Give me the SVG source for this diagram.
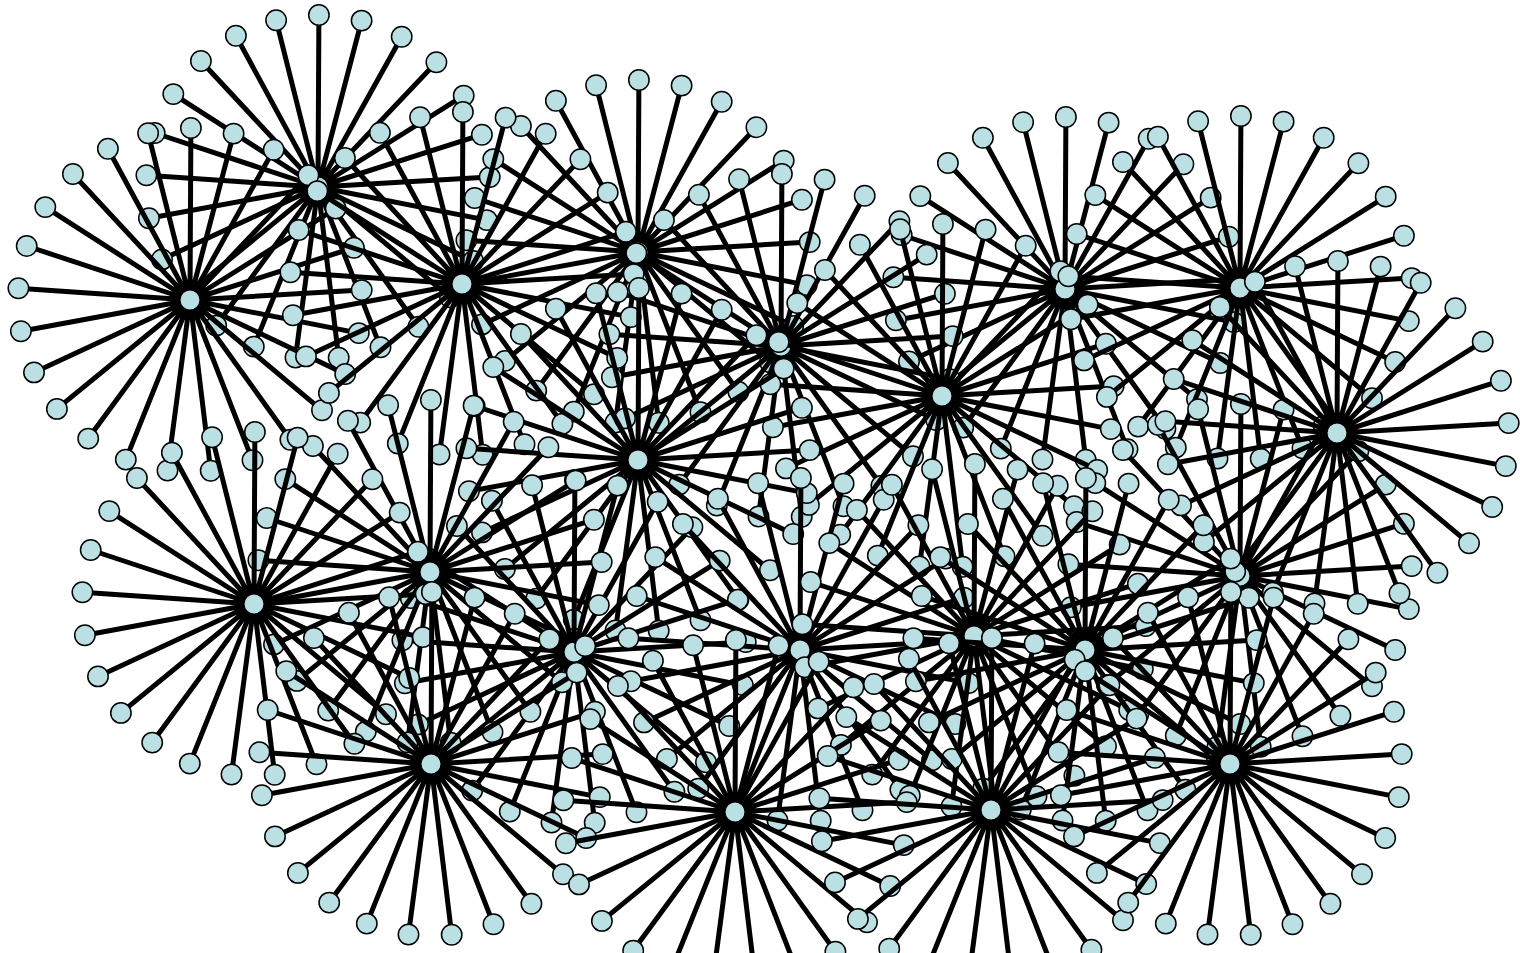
<svg xmlns="http://www.w3.org/2000/svg" xmlns:xlink="http://www.w3.org/1999/xlink" width="1520" height="953" viewBox="0 0 1520 953">
<style>
.edge{fill:none;stroke:#000;stroke-width:5}
.node circle{fill:#bbe0e3;stroke:#000;stroke-width:1.5}
</style>
<defs>
<path id="spokes" class="edge" d="M0 0L171.7-9.9M0 0L168.8 33.1M0 0L155.2 74M0 0L132 110.3M0 0L100.4 139.7M0 0L62.5 160.3M0 0L20.7 170.8M0 0L-22.5 170.5M0 0L-64.2 159.6M0 0L-101.8 138.6M0 0L-133.1 108.9M0 0L-156 72.4M0 0L-169.1 31.3M0 0L-171.6-11.7M0 0L-163.3-54M0 0L-144.7-92.9M0 0L-117.1-126M0 0L-82.1-151.2M0 0L-41.9-166.8M0 0L0.9-172M0 0L43.6-166.4M0 0L83.7-150.3M0 0L118.4-124.8M0 0L145.7-91.4M0 0L163.9-52.3"/>
<g id="leaves" class="node">
<circle cx="171.7" cy="-9.9" r="10.2"/><circle cx="168.8" cy="33.1" r="10.2"/><circle cx="155.2" cy="74" r="10.2"/><circle cx="132" cy="110.3" r="10.2"/><circle cx="100.4" cy="139.7" r="10.2"/><circle cx="62.5" cy="160.3" r="10.2"/><circle cx="20.7" cy="170.8" r="10.2"/><circle cx="-22.5" cy="170.5" r="10.2"/><circle cx="-64.2" cy="159.6" r="10.2"/><circle cx="-101.8" cy="138.6" r="10.2"/><circle cx="-133.1" cy="108.9" r="10.2"/><circle cx="-156" cy="72.4" r="10.2"/><circle cx="-169.1" cy="31.3" r="10.2"/><circle cx="-171.6" cy="-11.7" r="10.2"/><circle cx="-163.3" cy="-54" r="10.2"/><circle cx="-144.7" cy="-92.9" r="10.2"/><circle cx="-117.1" cy="-126" r="10.2"/><circle cx="-82.1" cy="-151.2" r="10.2"/><circle cx="-41.9" cy="-166.8" r="10.2"/><circle cx="0.9" cy="-172" r="10.2"/><circle cx="43.6" cy="-166.4" r="10.2"/><circle cx="83.7" cy="-150.3" r="10.2"/><circle cx="118.4" cy="-124.8" r="10.2"/><circle cx="145.7" cy="-91.4" r="10.2"/><circle cx="163.9" cy="-52.3" r="10.2"/><circle cx="0" cy="0" r="10.2"/>
</g>
</defs>
<g id="graph">
<g id="hub2" transform="translate(318,187)"><use href="#spokes"/><use href="#leaves"/></g>
<g id="hub1" transform="translate(190,300)"><use href="#spokes"/><use href="#leaves"/></g>
<g id="hub4" transform="translate(638,252)"><use href="#spokes"/><use href="#leaves"/></g>
<g id="hub3" transform="translate(462,284)"><use href="#spokes"/><use href="#leaves"/></g>
<g id="hub7" transform="translate(1065,289)"><use href="#spokes"/><use href="#leaves"/></g>
<g id="hub5" transform="translate(781,346)"><use href="#spokes"/><use href="#leaves"/></g>
<g id="hub6" transform="translate(942,396)"><use href="#spokes"/><use href="#leaves"/></g>
<g id="hub8" transform="translate(1240,288)"><use href="#spokes"/><use href="#leaves"/></g>
<g id="hub17" transform="translate(1240,576)"><use href="#spokes"/><use href="#leaves"/></g>
<g id="hub9" transform="translate(1337,433)"><use href="#spokes"/><use href="#leaves"/></g>
<g id="hub10" transform="translate(638,460)"><use href="#spokes"/><use href="#leaves"/></g>
<g id="hub13" transform="translate(574,652)"><use href="#spokes"/><use href="#leaves"/></g>
<g id="hub12" transform="translate(430,572)"><use href="#spokes"/><use href="#leaves"/></g>
<g id="hub11" transform="translate(254,604)"><use href="#spokes"/><use href="#leaves"/></g>
<g id="hub14" transform="translate(800,650)"><use href="#spokes"/><use href="#leaves"/></g>
<g id="hub15" transform="translate(974,636)"><use href="#spokes"/><use href="#leaves"/></g>
<g id="hub16" transform="translate(1085,650)"><use href="#spokes"/><use href="#leaves"/></g>
<g id="hub18" transform="translate(431,764)"><use href="#spokes"/><use href="#leaves"/></g>
<g id="hub19" transform="translate(735,812)"><use href="#spokes"/><use href="#leaves"/></g>
<g id="hub20" transform="translate(991,810)"><use href="#spokes"/><use href="#leaves"/></g>
<g id="hub21" transform="translate(1230,764)"><use href="#spokes"/><use href="#leaves"/></g>
</g>
</svg>
